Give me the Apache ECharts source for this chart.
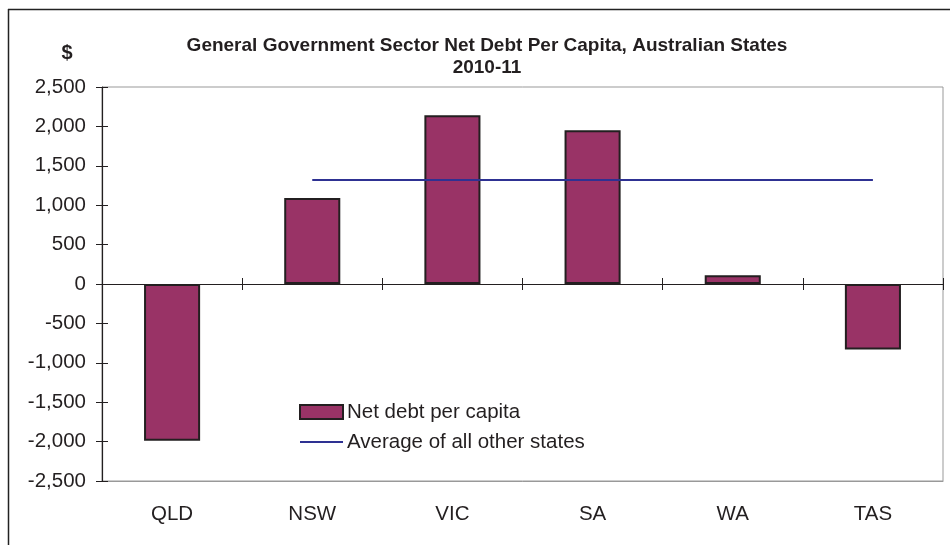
<!DOCTYPE html>
<html>
<head>
<meta charset="utf-8">
<script src="https://cdn.jsdelivr.net/npm/echarts@6/dist/echarts.min.js"></script>
<style>html,body{margin:0;padding:0;background:#fff}#c{width:950px;height:545px}</style>
</head>
<body>
<div id="c"></div>
<script>
var categories = ['QLD', 'NSW', 'VIC', 'SA', 'WA', 'TAS'];
var netDebt = [-1990, 1090, 2140, 1950, 110, -830];
var average = [null, 1320, 1320, 1320, 1320, 1320];
var yTicks = [-2500, -2000, -1500, -1000, -500, 0, 500, 1000, 1500, 2000, 2500];
var seriesNames = ['Net debt per capita', 'Average of all other states'];

var FONT = 'Liberation Sans, Arial, sans-serif';
var TXT = '#231f20';
var chart = echarts.init(document.getElementById('c'));
function fmt(v){ return v.toLocaleString('en-US'); }
var yBase = {
  type: 'value', min: yTicks[0], max: yTicks[yTicks.length-1], interval: yTicks[1]-yTicks[0],
  splitLine: {show: false}
};
chart.setOption({
  animation: false,
  grid: {left: 102, right: 7, top: 87, bottom: 64, show: true, borderColor: '#999', borderWidth: 1, backgroundColor: 'transparent'},
  graphic: [
    {type: 'line', shape: {x1: 8, y1: 9.5, x2: 950, y2: 9.5}, style: {stroke: '#222', lineWidth: 1.5}},
    {type: 'line', shape: {x1: 8.5, y1: 9, x2: 8.5, y2: 545}, style: {stroke: '#222', lineWidth: 1.5}},
    {type: 'text', x: 487, y: 46, style: {text: 'General Government Sector Net Debt Per Capita, Australian States', font: 'bold 19px ' + FONT, fill: TXT, textAlign: 'center', textVerticalAlign: 'middle'}},
    {type: 'text', x: 487, y: 68, style: {text: '2010-11', font: 'bold 19px ' + FONT, fill: TXT, textAlign: 'center', textVerticalAlign: 'middle'}},
    {type: 'text', x: 67, y: 53, style: {text: '$', font: 'bold 20px ' + FONT, fill: TXT, textAlign: 'center', textVerticalAlign: 'middle'}},
    {type: 'rect', shape: {x: 300, y: 405, width: 43, height: 14}, style: {fill: '#993366', stroke: TXT, lineWidth: 2}, z: 10},
    {type: 'text', x: 347, y: 412, style: {text: seriesNames[0], font: '20.5px ' + FONT, fill: TXT, textVerticalAlign: 'middle'}, z: 10},
    {type: 'line', shape: {x1: 300, y1: 442, x2: 343, y2: 442}, style: {stroke: '#2e3192', lineWidth: 2}, z: 10},
    {type: 'text', x: 347, y: 442, style: {text: seriesNames[1], font: '20.5px ' + FONT, fill: TXT, textVerticalAlign: 'middle'}, z: 10}
  ],
  xAxis: [
    {type: 'category', data: categories, position: 'bottom',
     axisLine: {onZero: false, lineStyle: {color: '#999', width: 1}},
     axisTick: {show: false},
     axisLabel: {fontFamily: FONT, fontSize: 20.5, color: TXT, margin: 23}},
    {type: 'category', data: categories, position: 'bottom',
     axisLine: {onZero: true, lineStyle: {color: TXT, width: 1.2}},
     axisTick: {show: true, length: 6, alignWithLabel: false, lineStyle: {color: TXT}},
     axisLabel: {show: false}},
    {type: 'category', data: categories, position: 'bottom',
     axisLine: {onZero: true, show: false},
     axisTick: {show: true, inside: true, length: 6, lineStyle: {color: TXT}},
     axisLabel: {show: false}}
  ],
  yAxis: [
    Object.assign({}, yBase, {
      axisLine: {show: true, lineStyle: {color: TXT, width: 1.2}},
      axisTick: {show: true, length: 6, lineStyle: {color: TXT}},
      axisLabel: {fontFamily: FONT, fontSize: 20.5, color: TXT, margin: 16, formatter: fmt}
    }),
    Object.assign({}, yBase, {
      position: 'left',
      axisLine: {show: false},
      axisTick: {show: true, inside: true, length: 6, lineStyle: {color: TXT}},
      axisLabel: {show: false}
    })
  ],
  series: [
    {name: seriesNames[0], type: 'bar', data: netDebt, barWidth: '40%', xAxisIndex: 0, yAxisIndex: 0,
     itemStyle: {color: '#993366', borderColor: TXT, borderWidth: 2}},
    {name: seriesNames[1], type: 'line', data: average, xAxisIndex: 0, yAxisIndex: 0,
     symbol: 'none', showSymbol: false, lineStyle: {color: '#2e3192', width: 2}, itemStyle: {color: '#2e3192'}}
  ]
});
</script>
</body>
</html>
